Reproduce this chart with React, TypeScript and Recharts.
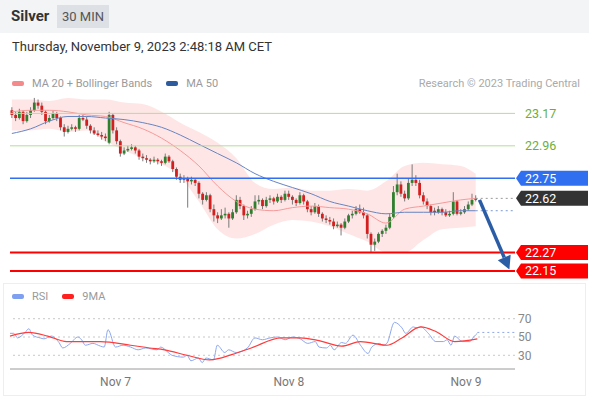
import React from 'react';
import { ComposedChart, Bar, Line, Area, XAxis, YAxis, ReferenceLine } from 'recharts';

// 30 min candles, [open, high, low, close]
const candles: [number, number, number, number][] = [
  [23.19, 23.21, 23.14, 23.16], [23.16, 23.18, 23.12, 23.14], [23.14, 23.20, 23.13, 23.18], [23.18, 23.19, 23.10, 23.12],
  [23.12, 23.18, 23.11, 23.16], [23.16, 23.21, 23.14, 23.19], [23.19, 23.27, 23.18, 23.24], [23.24, 23.26, 23.20, 23.22],
  [23.22, 23.24, 23.16, 23.18], [23.18, 23.19, 23.10, 23.12], [23.12, 23.16, 23.11, 23.14], [23.14, 23.19, 23.13, 23.17],
  [23.17, 23.18, 23.12, 23.14], [23.14, 23.15, 23.06, 23.08], [23.08, 23.10, 23.02, 23.05], [23.05, 23.09, 23.04, 23.07],
  [23.07, 23.10, 23.06, 23.08], [23.08, 23.09, 23.05, 23.07], [23.07, 23.16, 23.06, 23.14], [23.14, 23.16, 23.12, 23.13],
  [23.13, 23.15, 23.07, 23.09], [23.09, 23.10, 23.04, 23.06], [23.06, 23.08, 23.03, 23.04], [23.04, 23.06, 23.02, 23.03],
  [23.03, 23.05, 23.00, 23.02], [23.02, 23.04, 22.99, 23.01], [22.98, 23.18, 22.97, 23.16], [23.16, 23.17, 23.04, 23.06],
  [23.06, 23.08, 22.97, 22.99], [22.99, 23.00, 22.89, 22.91], [22.91, 22.95, 22.90, 22.93], [22.93, 22.96, 22.92, 22.94],
  [22.94, 22.97, 22.93, 22.95], [22.95, 22.96, 22.91, 22.93], [22.93, 22.94, 22.87, 22.89], [22.89, 22.91, 22.86, 22.88],
  [22.88, 22.90, 22.85, 22.87], [22.87, 22.88, 22.84, 22.86], [22.86, 22.89, 22.85, 22.87], [22.87, 22.88, 22.84, 22.86],
  [22.86, 22.87, 22.83, 22.85], [22.85, 22.91, 22.84, 22.89], [22.89, 22.90, 22.85, 22.86], [22.86, 22.87, 22.79, 22.81],
  [22.81, 22.82, 22.74, 22.76], [22.76, 22.78, 22.72, 22.74], [22.74, 22.77, 22.72, 22.75], [22.75, 22.76, 22.56, 22.73],
  [22.73, 22.76, 22.71, 22.74], [22.74, 22.75, 22.70, 22.72], [22.72, 22.73, 22.62, 22.65], [22.65, 22.66, 22.58, 22.61],
  [22.61, 22.66, 22.60, 22.64], [22.64, 22.65, 22.53, 22.55], [22.55, 22.58, 22.47, 22.51], [22.51, 22.53, 22.46, 22.49],
  [22.49, 22.55, 22.48, 22.51], [22.51, 22.56, 22.49, 22.52], [22.52, 22.53, 22.43, 22.49], [22.49, 22.55, 22.48, 22.53],
  [22.53, 22.64, 22.52, 22.61], [22.61, 22.63, 22.55, 22.57], [22.57, 22.58, 22.48, 22.51], [22.51, 22.54, 22.49, 22.52],
  [22.52, 22.57, 22.50, 22.55], [22.55, 22.64, 22.54, 22.60], [22.60, 22.64, 22.58, 22.61], [22.61, 22.62, 22.55, 22.57],
  [22.57, 22.63, 22.56, 22.61], [22.61, 22.64, 22.59, 22.62], [22.62, 22.63, 22.58, 22.60], [22.60, 22.65, 22.59, 22.63],
  [22.63, 22.64, 22.59, 22.61], [22.61, 22.67, 22.60, 22.65], [22.65, 22.67, 22.61, 22.63], [22.63, 22.64, 22.58, 22.61],
  [22.61, 22.62, 22.57, 22.59], [22.59, 22.66, 22.58, 22.64], [22.64, 22.65, 22.58, 22.60], [22.60, 22.61, 22.53, 22.55],
  [22.55, 22.57, 22.51, 22.53], [22.53, 22.59, 22.52, 22.57], [22.57, 22.58, 22.50, 22.52], [22.52, 22.53, 22.47, 22.49],
  [22.49, 22.51, 22.46, 22.48], [22.48, 22.50, 22.45, 22.47], [22.47, 22.49, 22.42, 22.44], [22.44, 22.47, 22.43, 22.45],
  [22.45, 22.46, 22.38, 22.43], [22.43, 22.49, 22.42, 22.47], [22.47, 22.52, 22.46, 22.51], [22.51, 22.54, 22.49, 22.52],
  [22.52, 22.57, 22.51, 22.55], [22.55, 22.58, 22.52, 22.53], [22.53, 22.56, 22.49, 22.51], [22.51, 22.52, 22.36, 22.39],
  [22.39, 22.40, 22.27, 22.32], [22.32, 22.36, 22.28, 22.34], [22.34, 22.40, 22.33, 22.39], [22.39, 22.42, 22.37, 22.41],
  [22.41, 22.45, 22.39, 22.43], [22.43, 22.52, 22.42, 22.50], [22.50, 22.70, 22.49, 22.66], [22.66, 22.78, 22.64, 22.71],
  [22.71, 22.73, 22.63, 22.65], [22.65, 22.67, 22.60, 22.62], [22.62, 22.75, 22.61, 22.72], [22.72, 22.84, 22.70, 22.74],
  [22.74, 22.77, 22.70, 22.72], [22.72, 22.74, 22.62, 22.64], [22.64, 22.66, 22.58, 22.60], [22.60, 22.62, 22.55, 22.57],
  [22.57, 22.58, 22.51, 22.53], [22.54, 22.56, 22.51, 22.53], [22.53, 22.57, 22.52, 22.55], [22.55, 22.56, 22.51, 22.53],
  [22.53, 22.55, 22.50, 22.51], [22.51, 22.54, 22.50, 22.52], [22.52, 22.66, 22.51, 22.60], [22.60, 22.61, 22.51, 22.52],
  [22.52, 22.55, 22.51, 22.53], [22.53, 22.57, 22.52, 22.55], [22.55, 22.60, 22.54, 22.58], [22.58, 22.65, 22.57, 22.61],
  [22.61, 22.64, 22.60, 22.62],
];
const slots = 135; // candles + empty future slots

// indicator samples
const bandIdx = [0, 5, 10, 15, 20, 25, 30, 35, 40, 45, 50, 55, 60, 65, 70, 75, 80, 85, 90, 95, 100, 105, 110, 115, 120, 124];
const upperBand = [23.26, 23.26, 23.25, 23.27, 23.26, 23.26, 23.24, 23.23, 23.18, 23.11, 23.05, 22.98, 22.88, 22.72, 22.68, 22.69, 22.67, 22.67, 22.68, 22.67, 22.73, 22.83, 22.85, 22.84, 22.83, 22.78];
const lowerBand = [23.06, 23.06, 23.07, 23.05, 23.06, 22.99, 22.93, 22.88, 22.84, 22.76, 22.60, 22.42, 22.36, 22.39, 22.45, 22.48, 22.47, 22.44, 22.39, 22.34, 22.27, 22.27, 22.35, 22.42, 22.43, 22.44];
const ma20 = [23.18, 23.19, 23.19, 23.18, 23.16, 23.15, 23.11, 23.07, 23.01, 22.93, 22.83, 22.70, 22.60, 22.55, 22.54, 22.56, 22.57, 22.56, 22.55, 22.52, 22.46, 22.55, 22.57, 22.59, 22.61, 22.62];
const ma50 = [23.04, 23.07, 23.12, 23.15, 23.15, 23.14, 23.13, 23.11, 23.08, 23.03, 22.97, 22.91, 22.85, 22.78, 22.73, 22.69, 22.65, 22.60, 22.57, 22.54, 22.52, 22.53, 22.53, 22.53, 22.54, 22.54];

const rsiPoints: [number, number][] = [
  [0, 54], [1, 54], [2, 49], [4, 55], [5, 59], [6, 52], [8, 49], [9, 48], [11, 51], [13, 44], [14, 38], [16, 43],
  [18, 50], [19, 47], [20, 41], [22, 43], [24, 40], [25, 39], [26, 58], [28, 39], [30, 41], [32, 39], [34, 36],
  [36, 38], [39, 36], [40, 39], [42, 33], [43, 30], [46, 28], [47, 30], [48, 24], [50, 27], [51, 22], [52, 27],
  [54, 25], [55, 41], [57, 33], [58, 36], [60, 33], [63, 38], [65, 49], [67, 47], [69, 49], [71, 50], [73, 47],
  [75, 50], [77, 48], [79, 43], [81, 45], [82, 39], [84, 38], [85, 41], [86, 36], [88, 44], [89, 43], [91, 52],
  [93, 41], [95, 32], [96, 39], [98, 43], [99, 41], [100, 43], [102, 66], [104, 60], [105, 54], [107, 61], [108, 60],
  [109, 61], [111, 54], [113, 45], [115, 45], [116, 47], [117, 41], [118, 51], [120, 45], [122, 45], [123, 50], [124, 54],
];
const rsiMaPoints: [number, number][] = [
  [0, 51], [5, 55], [10, 51], [15, 45], [24, 45], [32, 41], [37, 38], [41, 36], [47, 30], [53, 25], [59, 31], [64, 38],
  [72, 49], [77, 49], [82, 46], [88, 40], [93, 45], [100, 41], [104, 49], [109, 61], [113, 56], [118, 45], [124, 48],
];
const rsiLast = 55;

const dayTicks = [28, 74, 121];
const dayLabels = ['Nov 7', 'Nov 8', 'Nov 9'];
const greenLevels = [23.17, 22.96];
const tagLevels = [
  { value: 22.75, color: '#2f6ff0', line: true, width: 1.5 },
  { value: 22.62, color: '#333333', line: false, width: 0 },
  { value: 22.27, color: '#ff0000', line: true, width: 2 },
  { value: 22.15, color: '#ff0000', line: true, width: 2 },
];
const lastPrice = 22.62;
const target = 22.16;

const priceRows = Array.from({ length: slots }, (_, i) => {
  const c = candles[i];
  const k = bandIdx.indexOf(i);
  return {
    i,
    range: c ? [c[2], c[1]] : undefined,
    o: c ? c[0] : undefined,
    h: c ? c[1] : undefined,
    l: c ? c[2] : undefined,
    c: c ? c[3] : undefined,
    band: k >= 0 ? [lowerBand[k], upperBand[k]] : undefined,
    ma20: k >= 0 ? ma20[k] : undefined,
    ma50: k >= 0 ? ma50[k] : undefined,
  };
});

const rsiRows = Array.from({ length: slots }, (_, i) => {
  const r = rsiPoints.find((p) => p[0] === i);
  const m = rsiMaPoints.find((p) => p[0] === i);
  return { i, rsi: r ? r[1] : undefined, rsiMa: m ? m[1] : undefined };
});

const Candle = (props: any) => {
  const { x, y, width, height, payload } = props;
  if (!payload || payload.o == null) return null;
  const { o, h, l, c } = payload;
  const top = Math.min(y, y + height);
  const full = Math.abs(height);
  const k = full / (h - l);
  const cx = x + width / 2;
  const b1 = top + (h - Math.max(o, c)) * k;
  const b2 = top + (h - Math.min(o, c)) * k;
  const color = c >= o ? '#2f7f2f' : '#d21f1f';
  return (
    <g>
      <line x1={cx} x2={cx} y1={top} y2={top + full} stroke="#7a7a7a" strokeWidth={1} />
      <rect x={cx - 1.4} y={b1} width={2.8} height={Math.max(1, b2 - b1)} fill={color} />
    </g>
  );
};

const tagLabel = (text: string, color: string) => (props: any) => {
  const vb = props.viewBox;
  const x = vb.x + vb.width;
  const y = vb.y;
  return (
    <g>
      <path d={`M${x + 1},${y} L${x + 6},${y - 7.5} H${x + 73} V${y + 7.5} H${x + 6} Z`} fill={color} />
      <text x={x + 10} y={y + 4.5} fill="#ffffff" fontSize={12.5} fontFamily="Roboto">{text}</text>
    </g>
  );
};

const greenLabel = (text: string) => (props: any) => {
  const vb = props.viewBox;
  return (
    <text x={vb.x + vb.width + 10} y={vb.y + 4.5} fill="#6aaf3d" fontSize={12.5} fontFamily="Roboto">{text}</text>
  );
};

const Arrow = (p: any) => {
  const { x1, y1, x2, y2 } = p;
  const ang = Math.atan2(y2 - y1, x2 - x1);
  const L = 13;
  const W = 7;
  const bx = x2 - L * Math.cos(ang);
  const by = y2 - L * Math.sin(ang);
  const px = -Math.sin(ang) * W;
  const py = Math.cos(ang) * W;
  return (
    <g>
      <line x1={x1} y1={y1} x2={bx} y2={by} stroke="#2b5da6" strokeWidth={3.5} />
      <polygon points={`${x2},${y2} ${bx + px},${by + py} ${bx - px},${by - py}`} fill="#2b5da6" />
    </g>
  );
};

const legendItem = (color: string, text: string) => (
  <span style={{ display: 'inline-flex', alignItems: 'center', marginRight: 14 }}>
    <span style={{ width: 12, height: 5, borderRadius: 2, background: color, marginRight: 8 }} />
    <span>{text}</span>
  </span>
);

export default function App() {
  return (
    <div style={{ position: 'relative', width: 589, height: 397, background: '#fff', fontFamily: 'Roboto, sans-serif', overflow: 'hidden' }}>
      <style>{'body{margin:0}'}</style>
      <div style={{ position: 'absolute', left: 0, top: 0, width: 589, height: 33, background: '#f3f4f6' }} />
      <div style={{ position: 'absolute', left: 11, top: 7, fontSize: 15, fontWeight: 700, color: '#333' }}>Silver</div>
      <div style={{ position: 'absolute', left: 57, top: 5, width: 52, height: 23, background: '#dde0e5', color: '#555', fontSize: 13, lineHeight: '23px', textAlign: 'center' }}>30 MIN</div>
      <div style={{ position: 'absolute', left: 12, top: 39, fontSize: 13, color: '#333' }}>Thursday, November 9, 2023 2:48:18 AM CET</div>
      <div style={{ position: 'absolute', left: 12, top: 77, fontSize: 11, color: '#9a9a9a', display: 'flex' }}>
        {legendItem('#f58a8a', 'MA 20 + Bollinger Bands')}
        {legendItem('#2e5a9e', 'MA 50')}
      </div>
      <div style={{ position: 'absolute', right: 9, top: 77, fontSize: 11, color: '#aaa' }}>Research © 2023 Trading Central</div>

      <div style={{ position: 'absolute', left: 0, top: 0 }}>
        <ComposedChart width={589} height={290} data={priceRows} margin={{ top: 93.3, right: 74, left: 10, bottom: 11.3 }}>
          <XAxis dataKey="i" hide />
          <YAxis hide domain={[22.1, 23.3]} allowDataOverflow />
          <Area dataKey="band" stroke="none" fill="#ff8c8c" fillOpacity={0.22} connectNulls type="monotone" isAnimationActive={false} />
          <Line dataKey="ma20" stroke="#f59a9a" strokeWidth={1} dot={false} connectNulls type="monotone" isAnimationActive={false} />
          <Line dataKey="ma50" stroke="#6684c2" strokeWidth={1} dot={false} connectNulls type="monotone" isAnimationActive={false} />
          {greenLevels.map((v) => (
            <ReferenceLine key={v} y={v} stroke="#b5dc9c" strokeWidth={1} label={greenLabel(v.toFixed(2))} />
          ))}
          {tagLevels.map((t) => (
            <ReferenceLine key={t.value} y={t.value} stroke={t.color} strokeWidth={t.width} strokeOpacity={t.line ? 1 : 0} label={tagLabel(t.value.toFixed(2), t.color)} />
          ))}
          <ReferenceLine segment={[{ x: 124, y: lastPrice }, { x: 134, y: lastPrice }]} stroke="#999" strokeDasharray="2 3" />
          <ReferenceLine segment={[{ x: 124, y: ma50[ma50.length - 1] }, { x: 134, y: ma50[ma50.length - 1] }]} stroke="#7b98d6" strokeDasharray="2 3" />
          <Bar dataKey="range" shape={Candle} isAnimationActive={false} />
          <ReferenceLine segment={[{ x: 125, y: lastPrice - 0.01 }, { x: 133, y: target }]} shape={Arrow} />
        </ComposedChart>
      </div>

      <div style={{ position: 'absolute', left: 3, top: 283, width: 581, height: 111, border: '1px solid #eceff2' }} />
      <div style={{ position: 'absolute', left: 12, top: 290, fontSize: 11, color: '#9a9a9a', display: 'flex' }}>
        {legendItem('#7f9ff0', 'RSI')}
        {legendItem('#ff2020', '9MA')}
      </div>
      <div style={{ position: 'absolute', left: 0, top: 290 }}>
        <ComposedChart width={589} height={107} data={rsiRows} margin={{ top: 15, right: 0, left: 10, bottom: 8 }}>
          <XAxis
            dataKey="i"
            ticks={dayTicks}
            interval={0}
            tickFormatter={(v: number) => dayLabels[dayTicks.indexOf(v)]}
            axisLine={{ stroke: '#9a9a9a' }}
            tickLine={false}
            tick={{ fill: '#777', fontSize: 12, fontFamily: 'Roboto' }}
            height={20}
          />
          <YAxis
            orientation="right"
            width={74}
            domain={[15, 85]}
            ticks={[30, 50, 70]}
            interval={0}
            axisLine={false}
            tickLine={false}
            tickSize={0}
            tickMargin={3}
            tick={{ fill: '#888', fontSize: 12, fontFamily: 'Roboto' }}
          />
          {[30, 50, 70].map((v) => (
            <ReferenceLine key={v} y={v} stroke="#c8c8c8" strokeDasharray="2 3" />
          ))}
          <Line dataKey="rsi" stroke="#8ea8ee" strokeWidth={1} dot={false} connectNulls type="monotone" isAnimationActive={false} />
          <Line dataKey="rsiMa" stroke="#ff3b3b" strokeWidth={1.2} dot={false} connectNulls type="monotone" isAnimationActive={false} />
          <ReferenceLine segment={[{ x: 124, y: rsiLast }, { x: 134, y: rsiLast }]} stroke="#8ea8ee" strokeDasharray="2 3" />
        </ComposedChart>
      </div>
    </div>
  );
}
